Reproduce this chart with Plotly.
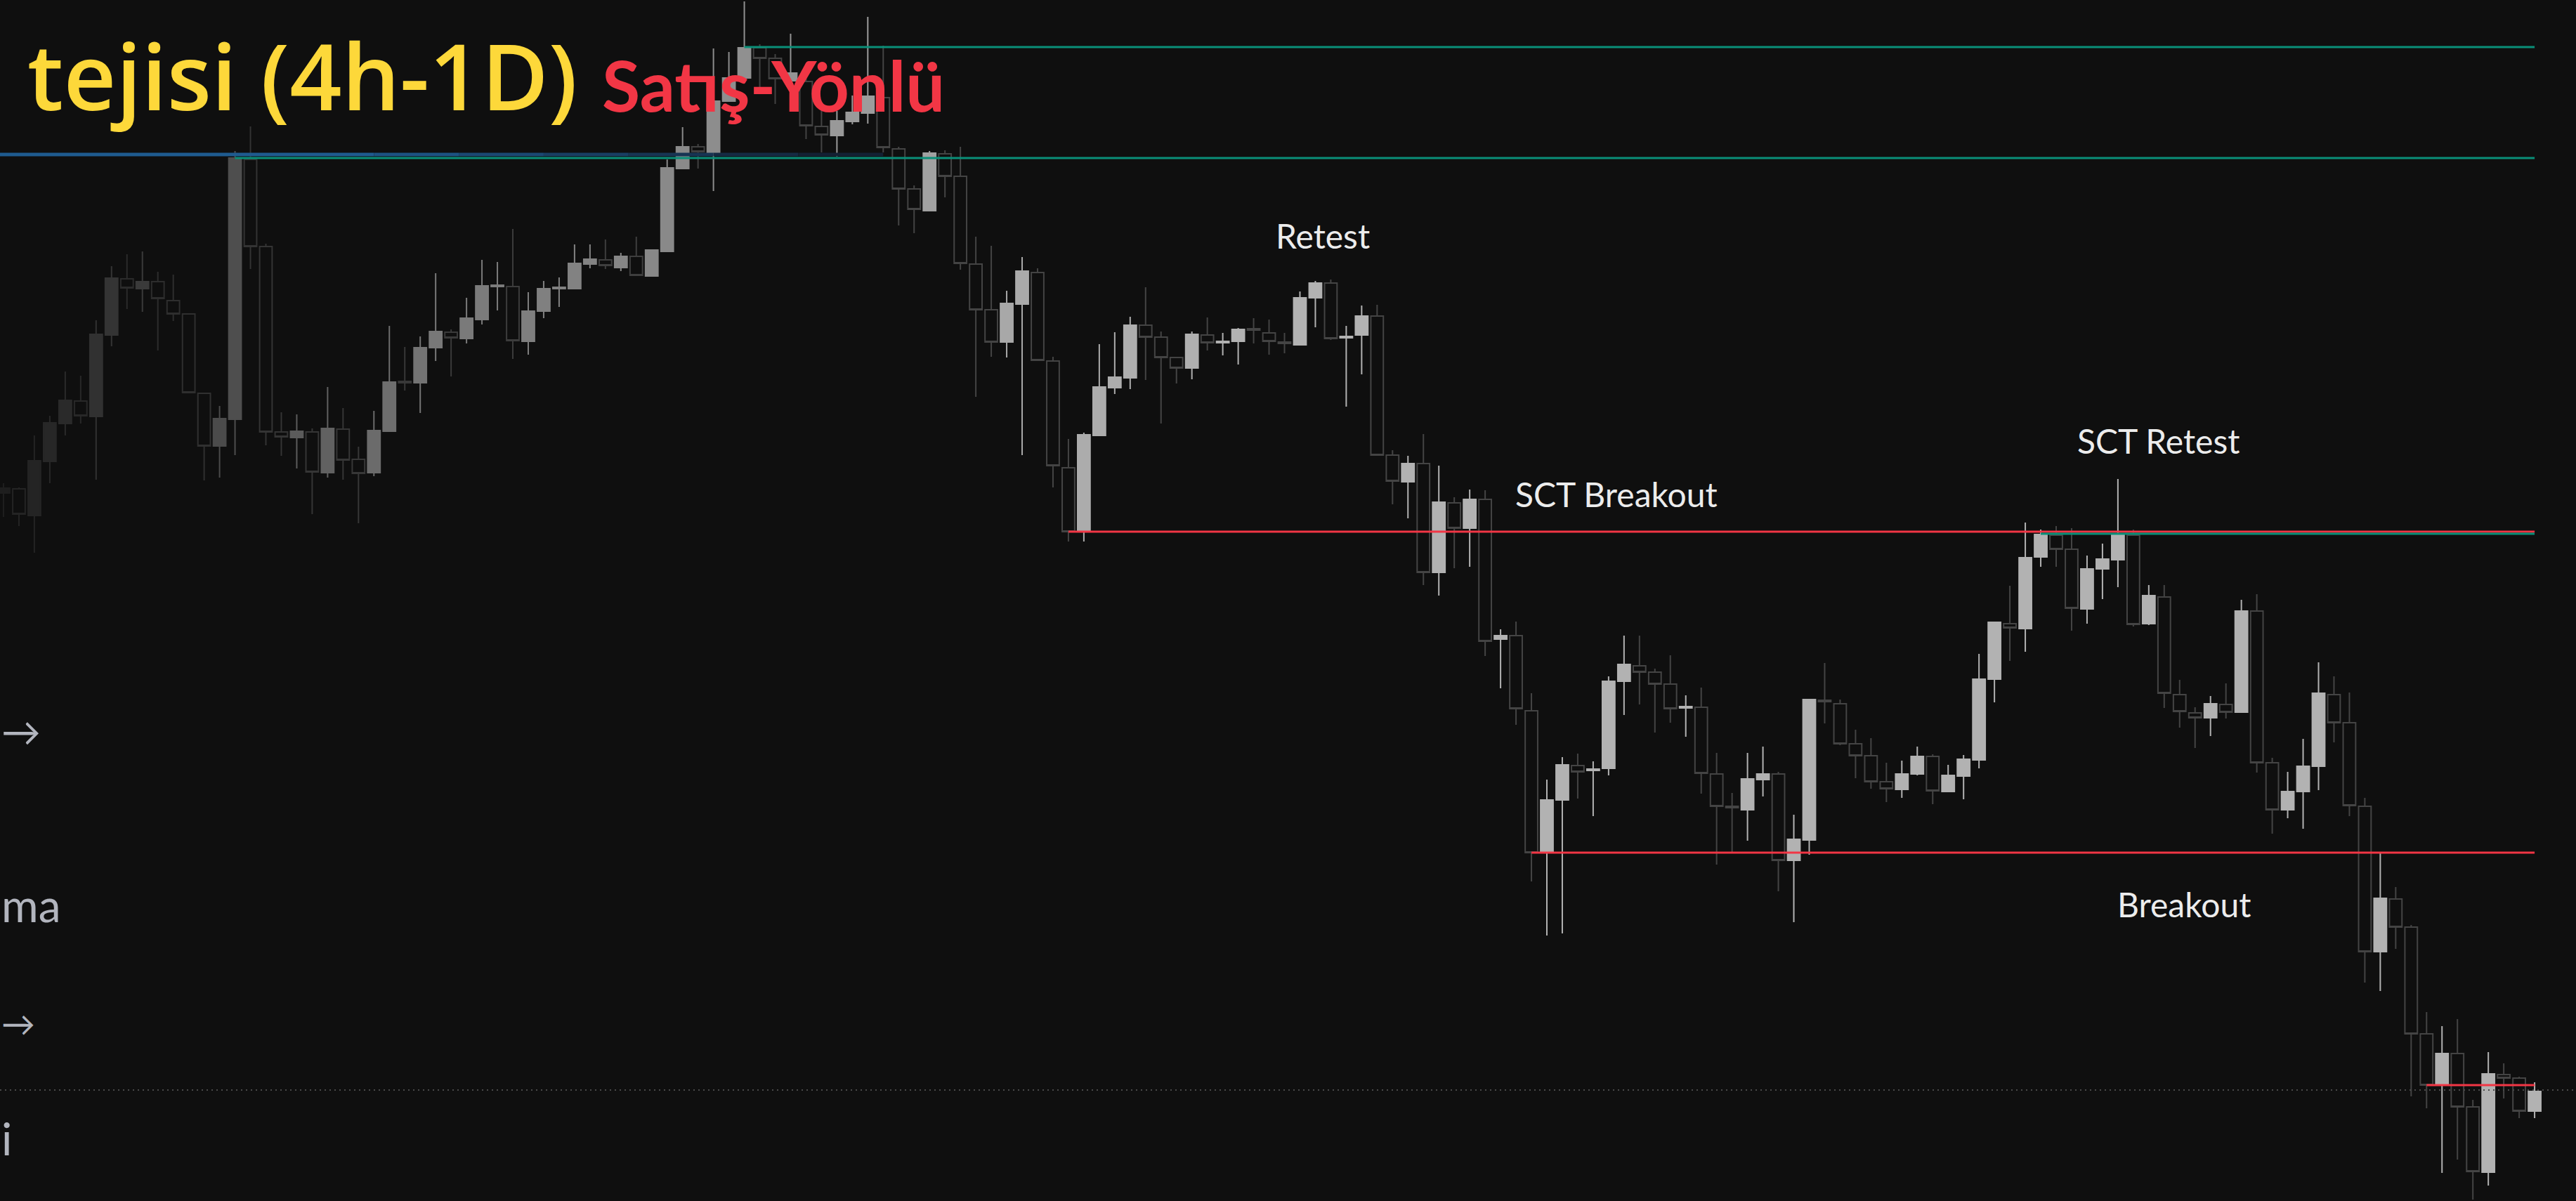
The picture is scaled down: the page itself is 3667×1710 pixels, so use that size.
import numpy as np
import plotly.graph_objects as go

# OHLC (arbitrary price units, one candle per 4h bar)
open_ = [1008, 1014, 976, 1053, 1107, 1139, 1117, 1233, 1313, 1299,
         1309, 1282, 1263, 1150, 1075, 1113, 1483, 1359, 1095, 1087,
         1095, 1037, 1099, 1056, 1037, 1096, 1167, 1165, 1215, 1237,
         1228, 1255, 1302, 1302, 1224, 1267, 1299, 1299, 1334, 1340,
         1329, 1345, 1317, 1352, 1470, 1501, 1493, 1566, 1599, 1642,
         1627, 1595, 1594, 1530, 1517, 1537, 1549, 1571, 1498, 1441,
         1410, 1491, 1459, 1334, 1269, 1223, 1277, 1322, 1196, 1044,
         954, 1090, 1158, 1172, 1247, 1230, 1201, 1186, 1233, 1222,
         1224, 1242, 1236, 1223, 1219, 1286, 1307, 1229, 1233, 1260,
         1062, 1024, 1050, 895, 994, 958, 999, 800, 805, 698,
         496, 571, 620, 613, 616, 740, 762, 753, 736, 702,
         703, 608, 562, 557, 600, 608, 485, 514, 713, 708,
         651, 634, 597, 586, 608, 633, 583, 605, 628, 743,
         822, 815, 917, 948, 928, 843, 900, 913, 948, 822,
         860, 721, 695, 688, 707, 696, 840, 624, 557, 583,
         619, 721, 681, 562, 355, 430, 390, 238, 166, 210,
         134, 41, 180, 175, 128]
high = [1022, 1016, 1090, 1118, 1181, 1175, 1254, 1331, 1348, 1352,
        1323, 1319, 1264, 1151, 1132, 1495, 1530, 1363, 1123, 1120,
        1100, 1159, 1129, 1074, 1125, 1246, 1216, 1231, 1321, 1241,
        1286, 1340, 1337, 1384, 1294, 1310, 1315, 1362, 1362, 1369,
        1350, 1373, 1355, 1483, 1529, 1505, 1641, 1636, 1708, 1647,
        1633, 1662, 1600, 1555, 1552, 1574, 1686, 1645, 1501, 1446,
        1495, 1496, 1501, 1373, 1360, 1296, 1344, 1328, 1202, 1085,
        1094, 1220, 1237, 1259, 1301, 1238, 1202, 1238, 1258, 1236,
        1243, 1257, 1255, 1236, 1295, 1310, 1312, 1246, 1275, 1276,
        1069, 1061, 1092, 1047, 1002, 1013, 1012, 814, 825, 723,
        600, 632, 637, 626, 747, 805, 805, 758, 777, 720,
        731, 638, 581, 638, 647, 611, 550, 715, 766, 714,
        671, 659, 624, 627, 647, 636, 621, 635, 779, 825,
        876, 966, 956, 961, 958, 919, 936, 1028, 956, 877,
        877, 742, 703, 719, 737, 856, 864, 631, 611, 658,
        767, 747, 724, 574, 495, 447, 393, 269, 249, 259,
        144, 212, 196, 177, 169]
low = [974, 961, 923, 1022, 1090, 1107, 1027, 1217, 1270, 1266,
       1211, 1253, 1150, 1026, 1030, 1062, 1327, 1076, 1061, 1043,
       978, 1030, 1027, 965, 1032, 1095, 1154, 1122, 1196, 1174,
       1221, 1248, 1268, 1199, 1205, 1257, 1273, 1299, 1328, 1327,
       1324, 1317, 1316, 1351, 1469, 1470, 1438, 1565, 1598, 1586,
       1562, 1575, 1512, 1493, 1487, 1533, 1534, 1493, 1389, 1378,
       1409, 1429, 1326, 1145, 1202, 1201, 1062, 1196, 1016, 939,
       939, 1089, 1149, 1156, 1169, 1107, 1164, 1170, 1211, 1204,
       1191, 1221, 1205, 1207, 1218, 1244, 1226, 1131, 1177, 1061,
       992, 972, 877, 862, 901, 903, 776, 730, 678, 455,
       378, 381, 573, 548, 606, 692, 707, 667, 681, 661,
       580, 479, 496, 513, 576, 441, 397, 493, 680, 649,
       602, 587, 568, 574, 606, 565, 582, 572, 616, 710,
       769, 782, 903, 903, 812, 822, 857, 874, 818, 820,
       702, 674, 645, 662, 687, 695, 610, 523, 545, 530,
       585, 653, 548, 311, 299, 359, 149, 132, 40, 59,
       2, 22, 146, 118, 118]
close = [1015, 978, 1054, 1108, 1140, 1118, 1234, 1314, 1300, 1309,
         1285, 1263, 1151, 1075, 1114, 1485, 1359, 1095, 1088, 1096,
         1038, 1100, 1055, 1036, 1097, 1166, 1165, 1215, 1238, 1229,
         1257, 1303, 1304, 1225, 1267, 1299, 1301, 1335, 1341, 1332,
         1345, 1318, 1354, 1471, 1501, 1494, 1566, 1599, 1642, 1627,
         1598, 1606, 1531, 1518, 1538, 1550, 1573, 1500, 1441, 1412,
         1492, 1459, 1335, 1269, 1223, 1278, 1324, 1197, 1047, 953,
         1091, 1159, 1173, 1247, 1230, 1201, 1186, 1234, 1222, 1224,
         1241, 1240, 1224, 1221, 1286, 1307, 1228, 1231, 1260, 1062,
         1025, 1050, 895, 995, 958, 999, 797, 805, 701, 496,
         571, 621, 611, 615, 740, 764, 753, 736, 701, 704,
         609, 562, 560, 601, 608, 485, 515, 714, 711, 651,
         634, 597, 587, 608, 633, 584, 606, 629, 743, 824,
         816, 916, 949, 928, 844, 900, 914, 949, 821, 862,
         723, 697, 688, 708, 696, 840, 624, 557, 583, 619,
         723, 681, 563, 355, 431, 390, 238, 165, 210, 134,
         42, 181, 175, 128, 156]

# horizontal levels
upper_zone = 1643
lower_zone = 1485
blue_level = 1490
sct_level = 953
sct_retest_level = 950
breakout_level = 496
last_level = 165
price_level = 158

labels = ["Retest", "SCT Breakout", "SCT Retest", "Breakout"]

BG = "#0f0f0f"
n = len(open_)
idx = np.arange(n)

# older candles fade into the background
bull_grey = np.interp(idx, [0, 28, 45, 56, 66, 80], [30, 120, 140, 156, 170, 178])
bear_grey = np.interp(idx, [0, 17, 33, 55], [36, 52, 60, 68])

fig = go.Figure()
for i in idx:
    up = "rgb({0},{0},{0})".format(int(bull_grey[i]))
    dn = "rgb({0},{0},{0})".format(int(bear_grey[i]))
    fig.add_trace(go.Candlestick(
        x=[i], open=[open_[i]], high=[high[i]], low=[low[i]], close=[close[i]],
        increasing=dict(line=dict(color=up, width=2), fillcolor=up),
        decreasing=dict(line=dict(color=dn, width=2), fillcolor=BG),
        whiskerwidth=0, showlegend=False, hoverinfo="skip",
    ))

last = n - 1
x_left = -5 / 21.97
x_right = (3667 - 5) / 21.97


def hline(y, x0, x1, color, width=3, dash="solid"):
    return dict(type="line", xref="x", yref="y", x0=x0, x1=x1, y0=y, y1=y,
                line=dict(color=color, width=width, dash=dash), layer="above")


shapes = [hline(price_level, x_left, x_right, "#4a4a4a", 2, "2px,5px")]

# blue level, fading out to the right
shapes.append(hline(blue_level, x_left, 24, "#1f5b8f", 5))
fade = ["#1d5282", "#1b4873", "#193e63", "#173453", "#152a43", "#132033"]
for k, c in enumerate(fade):
    shapes.append(hline(blue_level, 24 + k * 5.5, 24 + (k + 1) * 5.5, c, 5))

shapes += [
    hline(upper_zone, 48, last, "#0a8f78"),
    hline(lower_zone, 15, last, "#0a8f78"),
    hline(sct_level, 69, last, "#f23645"),
    hline(sct_retest_level, 132, last, "#0a8f78"),
    hline(breakout_level, 99, last, "#f23645"),
    hline(last_level, 157, last, "#f23645"),
]

annotations = []
lab_pos = [(85.5, 1375), (104.5, 1007), (139.6, 1083), (141.3, 423)]
for text, (lx, ly) in zip(labels, lab_pos):
    annotations.append(dict(x=lx, y=ly, xref="x", yref="y", text=text, showarrow=False,
                            xanchor="center", yanchor="middle",
                            font=dict(family="Lato", size=48, color="#ececec")))

W, H = 3667, 1710
annotations.append(dict(x=824 / W, y=1 - 106 / H, xref="paper", yref="paper",
                        text="tejisi (4h-1D)", showarrow=False, xanchor="right", yanchor="middle",
                        font=dict(family="Open Sans", size=130, color="#fdd83a", weight=600)))
annotations.append(dict(x=855 / W, y=1 - 120 / H, xref="paper", yref="paper",
                        text="Satış-Yönlü", showarrow=False, xanchor="left", yanchor="middle",
                        font=dict(family="Lato", size=99, color="#f23645", weight=700)))

# side panel text at the left edge
side = [("→", 56, 1040), ("ma", 64, 1288), ("→", 48, 1456), ("i", 64, 1620)]
for text, size, py in side:
    annotations.append(dict(x=0, y=1 - py / H, xref="paper", yref="paper",
                            text=text, showarrow=False, xanchor="left", yanchor="middle",
                            font=dict(family="Lato", size=size, color="#b2b5be")))

fig.update_layout(
    width=W, height=H,
    margin=dict(l=0, r=0, t=0, b=0),
    paper_bgcolor=BG, plot_bgcolor=BG,
    showlegend=False,
    boxgap=0.19, boxgroupgap=0,
    xaxis=dict(visible=False, range=[x_left, x_right], rangeslider=dict(visible=False)),
    yaxis=dict(visible=False, range=[0, H]),
    shapes=shapes,
    annotations=annotations,
)

fig.write_html("out.html", config={"displayModeBar": False},
               post_script="document.body.style.margin='0';document.body.style.overflow='hidden';")
